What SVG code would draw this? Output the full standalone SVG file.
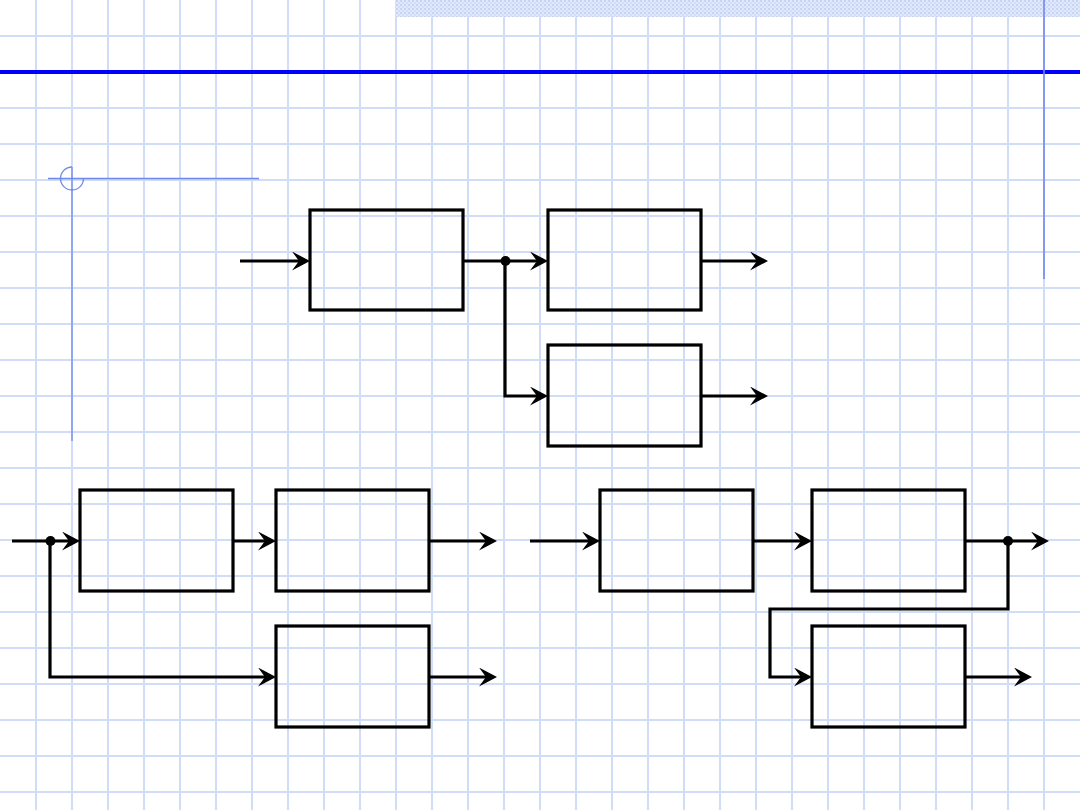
<svg xmlns="http://www.w3.org/2000/svg" width="1080" height="810" viewBox="0 0 1080 810">
<style>
.grid line{stroke:#d0dcf8;stroke-width:2}
.box{fill:none;stroke:#000;stroke-width:3.2}
.wire{fill:none;stroke:#000;stroke-width:3.2;stroke-linejoin:miter;stroke-linecap:butt}
.arr{marker-end:url(#ah)}
.deco{fill:none;stroke:#7088ee;stroke-width:1.3}
</style>
<defs>
<marker id="ah" viewBox="0 0 18 19" refX="8" refY="9.5" markerWidth="18" markerHeight="19" markerUnits="userSpaceOnUse" orient="auto">
<path d="M0,0 L18,9.5 L0,19 L7,9.5 Z" fill="#000"/>
</marker>
<pattern id="hatch" width="4" height="4" patternUnits="userSpaceOnUse">
<rect width="4" height="4" fill="#e2e9fb"/>
<rect width="2" height="2" fill="#c6d3f5"/>
<rect x="2" y="2" width="2" height="2" fill="#d0dcf8"/>
</pattern>
</defs>
<rect width="1080" height="810" fill="#fff"/>
<g class="grid">
<line x1="36" y1="0" x2="36" y2="810"/><line x1="72" y1="0" x2="72" y2="810"/><line x1="108" y1="0" x2="108" y2="810"/><line x1="144" y1="0" x2="144" y2="810"/><line x1="180" y1="0" x2="180" y2="810"/><line x1="216" y1="0" x2="216" y2="810"/><line x1="252" y1="0" x2="252" y2="810"/><line x1="288" y1="0" x2="288" y2="810"/><line x1="324" y1="0" x2="324" y2="810"/><line x1="360" y1="0" x2="360" y2="810"/><line x1="396" y1="0" x2="396" y2="810"/><line x1="432" y1="0" x2="432" y2="810"/><line x1="468" y1="0" x2="468" y2="810"/><line x1="504" y1="0" x2="504" y2="810"/><line x1="540" y1="0" x2="540" y2="810"/><line x1="576" y1="0" x2="576" y2="810"/><line x1="612" y1="0" x2="612" y2="810"/><line x1="648" y1="0" x2="648" y2="810"/><line x1="684" y1="0" x2="684" y2="810"/><line x1="720" y1="0" x2="720" y2="810"/><line x1="756" y1="0" x2="756" y2="810"/><line x1="792" y1="0" x2="792" y2="810"/><line x1="828" y1="0" x2="828" y2="810"/><line x1="864" y1="0" x2="864" y2="810"/><line x1="900" y1="0" x2="900" y2="810"/><line x1="936" y1="0" x2="936" y2="810"/><line x1="972" y1="0" x2="972" y2="810"/><line x1="1008" y1="0" x2="1008" y2="810"/><line x1="1044" y1="0" x2="1044" y2="810"/>
<line x1="0" y1="36" x2="1080" y2="36"/><line x1="0" y1="72" x2="1080" y2="72"/><line x1="0" y1="108" x2="1080" y2="108"/><line x1="0" y1="144" x2="1080" y2="144"/><line x1="0" y1="180" x2="1080" y2="180"/><line x1="0" y1="216" x2="1080" y2="216"/><line x1="0" y1="252" x2="1080" y2="252"/><line x1="0" y1="288" x2="1080" y2="288"/><line x1="0" y1="324" x2="1080" y2="324"/><line x1="0" y1="360" x2="1080" y2="360"/><line x1="0" y1="396" x2="1080" y2="396"/><line x1="0" y1="432" x2="1080" y2="432"/><line x1="0" y1="468" x2="1080" y2="468"/><line x1="0" y1="504" x2="1080" y2="504"/><line x1="0" y1="540" x2="1080" y2="540"/><line x1="0" y1="576" x2="1080" y2="576"/><line x1="0" y1="612" x2="1080" y2="612"/><line x1="0" y1="648" x2="1080" y2="648"/><line x1="0" y1="684" x2="1080" y2="684"/><line x1="0" y1="720" x2="1080" y2="720"/><line x1="0" y1="756" x2="1080" y2="756"/><line x1="0" y1="792" x2="1080" y2="792"/>
</g>
<g id="decor">
<rect x="395" y="0" width="685" height="17" fill="url(#hatch)"/>
<rect x="0" y="70" width="1080" height="4" fill="#0000ff"/>
<line x1="1044" y1="0" x2="1044" y2="279" stroke="#7088ee" stroke-width="1.6"/>
<line class="deco" x1="48" y1="178.5" x2="259" y2="178.5"/>
<path class="deco" d="M72,167 A11.5,11.5 0 1 0 83.5,178.5"/>
<line class="deco" x1="72" y1="167" x2="72" y2="441"/>
</g>
<g id="connectors">
<path class="wire arr" d="M240,261 H300"/>
<path class="wire arr" d="M463,261 H538"/>
<path class="wire arr" d="M505,261 V396 H538"/>
<path class="wire arr" d="M701,261 H758"/>
<path class="wire arr" d="M701,396 H758"/>
<path class="wire arr" d="M12,541 H70"/>
<path class="wire arr" d="M50,541 V677 H266"/>
<path class="wire arr" d="M233,541 H266"/>
<path class="wire arr" d="M429,541 H487"/>
<path class="wire arr" d="M429,677 H487"/>
<path class="wire arr" d="M530,541 H590"/>
<path class="wire arr" d="M753,541 H802"/>
<path class="wire arr" d="M965,541 H1039"/>
<path class="wire arr" d="M1008,541 V609 H770 V677 H802"/>
<path class="wire arr" d="M965,677 H1022"/>
<circle cx="505.5" cy="261" r="5"/>
<circle cx="50.5" cy="541" r="5"/>
<circle cx="1008" cy="541" r="5"/>
</g>
<g id="box1"><rect class="box" x="310" y="210" width="153" height="100"/></g>
<g id="box2"><rect class="box" x="548" y="210" width="153" height="100"/></g>
<g id="box3"><rect class="box" x="548" y="345" width="153" height="101"/></g>
<g id="boxA"><rect class="box" x="80" y="490" width="153" height="101"/></g>
<g id="boxB"><rect class="box" x="276" y="490" width="153" height="101"/></g>
<g id="boxC"><rect class="box" x="276" y="626" width="153" height="101"/></g>
<g id="boxD"><rect class="box" x="600" y="490" width="153" height="101"/></g>
<g id="boxE"><rect class="box" x="812" y="490" width="153" height="101"/></g>
<g id="boxF"><rect class="box" x="812" y="626" width="153" height="101"/></g>
</svg>
